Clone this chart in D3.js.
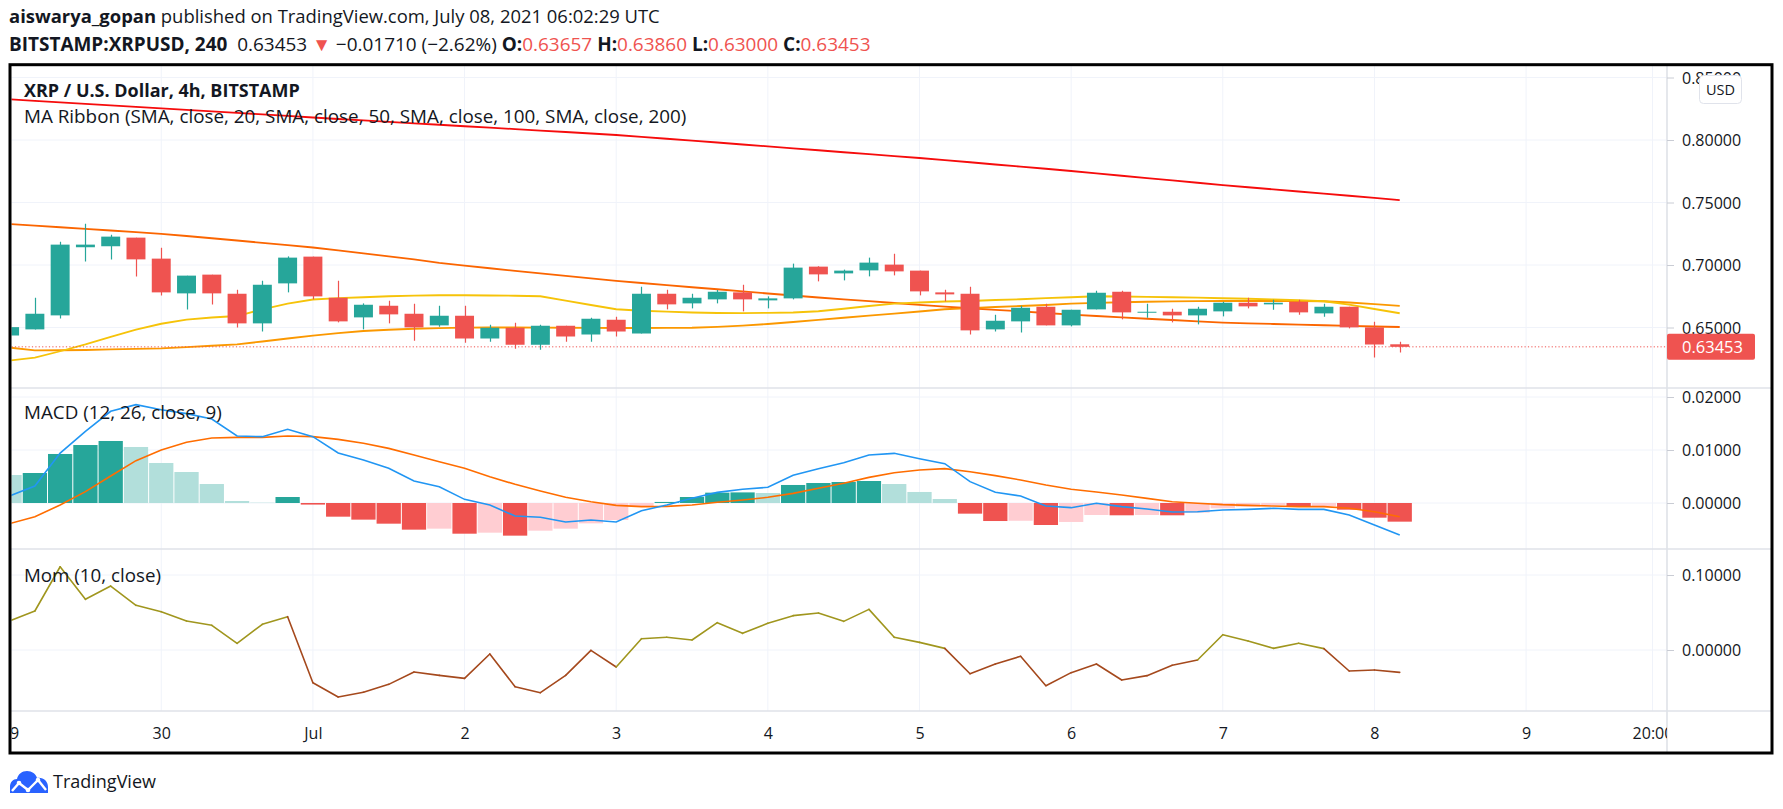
<!DOCTYPE html>
<html><head><meta charset="utf-8">
<script src="https://cdn.jsdelivr.net/npm/d3@7"></script>
<style>
body{margin:0;background:#fff;}
svg{display:block;font-family:"Open Sans",sans-serif;}
</style></head>
<body><svg id="c" width="1783" height="809"></svg>
<script>
// ---------------- DATA ----------------
const opens  = [0.6436,0.6485,0.6597,0.7142,0.7150,0.7219,0.7051,0.6773,0.6923,0.6770,0.6533,0.6853,0.7067,0.6738,0.6581,0.6674,0.6610,0.6517,0.6594,0.6412,0.6498,0.6362,0.6514,0.6444,0.6562,0.6452,0.6770,0.6693,0.6725,0.6781,0.6717,0.6733,0.6987,0.6933,0.6957,0.7003,0.6955,0.6781,0.6770,0.6485,0.6549,0.6666,0.6517,0.6645,0.6786,0.6621,0.6626,0.6597,0.6629,0.6698,0.6685,0.6706,0.6613,0.6666,0.6501,0.63657];
const highs  = [0.6503,0.6738,0.7187,0.7331,0.7243,0.7219,0.7139,0.6915,0.6923,0.6802,0.6874,0.7069,0.7067,0.6874,0.6693,0.6714,0.6690,0.6674,0.6674,0.6522,0.6538,0.6522,0.6514,0.6578,0.6586,0.6826,0.6802,0.6770,0.6800,0.6842,0.6749,0.7011,0.6990,0.6963,0.7059,0.7091,0.6955,0.6802,0.6826,0.6602,0.6674,0.6690,0.6642,0.6794,0.6794,0.6690,0.6650,0.6666,0.6706,0.6738,0.6722,0.6722,0.6690,0.6666,0.6546,0.63860];
const lows   = [0.6436,0.6485,0.6573,0.7029,0.7045,0.6909,0.6757,0.6645,0.6685,0.6501,0.6468,0.6781,0.6725,0.6541,0.6485,0.6533,0.6394,0.6506,0.6378,0.6386,0.6330,0.6322,0.6386,0.6386,0.6428,0.6452,0.6645,0.6653,0.6693,0.6629,0.6653,0.6725,0.6869,0.6877,0.6909,0.6917,0.6757,0.6709,0.6444,0.6468,0.6460,0.6517,0.6509,0.6645,0.6565,0.6578,0.6541,0.6525,0.6589,0.6653,0.6642,0.6602,0.6586,0.6493,0.6260,0.63000];
const closes = [0.6503,0.6610,0.7163,0.7163,0.7227,0.7045,0.6781,0.6915,0.6773,0.6533,0.6842,0.7059,0.6749,0.6549,0.6682,0.6605,0.6501,0.6594,0.6412,0.6498,0.6362,0.6514,0.6428,0.6570,0.6468,0.6770,0.6685,0.6738,0.6786,0.6725,0.6733,0.6979,0.6925,0.6955,0.7019,0.6949,0.6789,0.6765,0.6477,0.6554,0.6658,0.6517,0.6642,0.6778,0.6621,0.6626,0.6597,0.6650,0.6698,0.6669,0.6698,0.6621,0.6666,0.6501,0.6364,0.63453];

const sma20  = [0.6235,0.6259,0.6310,0.6365,0.6425,0.6483,0.6530,0.6563,0.6580,0.6592,0.6645,0.6691,0.6724,0.6735,0.6742,0.6750,0.6755,0.6758,0.6758,0.6756,0.6754,0.6750,0.6715,0.6680,0.6646,0.6634,0.6627,0.6620,0.6616,0.6615,0.6617,0.6620,0.6630,0.6650,0.6672,0.6691,0.6700,0.6708,0.6712,0.6720,0.6726,0.6735,0.6742,0.6750,0.6748,0.6745,0.6742,0.6739,0.6734,0.6730,0.6725,0.6718,0.6710,0.6683,0.6648,0.6614];
const sma50  = [0.6339,0.6317,0.6318,0.6320,0.6325,0.6329,0.6333,0.6343,0.6354,0.6365,0.6388,0.6412,0.6435,0.6455,0.6472,0.6482,0.6490,0.6495,0.6499,0.6500,0.6500,0.6499,0.6498,0.6497,0.6496,0.6496,0.6497,0.6498,0.6505,0.6515,0.6528,0.6544,0.6561,0.6578,0.6595,0.6611,0.6628,0.6646,0.6655,0.6664,0.6672,0.6680,0.6691,0.6697,0.6702,0.6706,0.6709,0.6711,0.6712,0.6712,0.6712,0.6711,0.6710,0.6700,0.6687,0.6673];
const sma100 = [0.7327,0.7315,0.7302,0.7289,0.7276,0.7263,0.7249,0.7232,0.7214,0.7196,0.7177,0.7159,0.7140,0.7117,0.7093,0.7069,0.7045,0.7017,0.6995,0.6974,0.6953,0.6933,0.6913,0.6893,0.6873,0.6856,0.6839,0.6822,0.6806,0.6789,0.6772,0.6756,0.6740,0.6725,0.6711,0.6696,0.6681,0.6667,0.6654,0.6641,0.6629,0.6616,0.6603,0.6592,0.6581,0.6570,0.6560,0.6549,0.6539,0.6533,0.6528,0.6523,0.6518,0.6513,0.6508,0.6504];
const sma200 = [0.8325,0.8313,0.8301,0.8289,0.8277,0.8265,0.8253,0.8241,0.8229,0.8217,0.8205,0.8193,0.8180,0.8168,0.8157,0.8145,0.8133,0.8122,0.8110,0.8099,0.8087,0.8075,0.8064,0.8052,0.8040,0.8025,0.8010,0.7995,0.7980,0.7964,0.7949,0.7933,0.7918,0.7902,0.7887,0.7871,0.7856,0.7839,0.7822,0.7804,0.7787,0.7770,0.7752,0.7733,0.7714,0.7695,0.7677,0.7658,0.7639,0.7622,0.7605,0.7588,0.7571,0.7554,0.7537,0.7519];

const macdHist = [0.00528,0.00566,0.00925,0.01094,0.01170,0.01057,0.00755,0.00585,0.00358,0.00038,0.00006,0.00113,-0.00030,-0.00258,-0.00314,-0.00390,-0.00503,-0.00484,-0.00579,-0.00560,-0.00616,-0.00522,-0.00484,-0.00384,-0.00321,-0.00057,0.00020,0.00113,0.00195,0.00200,0.00189,0.00340,0.00377,0.00396,0.00415,0.00358,0.00208,0.00075,-0.00201,-0.00340,-0.00335,-0.00415,-0.00358,-0.00226,-0.00232,-0.00226,-0.00232,-0.00182,-0.00100,-0.00070,-0.00038,-0.00063,-0.00057,-0.00126,-0.00277,-0.00352];
const macdLine = [0.00132,0.00321,0.00943,0.01352,0.01730,0.01855,0.01761,0.01686,0.01585,0.01264,0.01252,0.01390,0.01252,0.00943,0.00811,0.00654,0.00415,0.00308,0.00069,-0.00038,-0.00245,-0.00270,-0.00358,-0.00321,-0.00358,-0.00145,-0.00038,0.00088,0.00201,0.00258,0.00296,0.00522,0.00648,0.00761,0.00906,0.00937,0.00836,0.00742,0.00403,0.00201,0.00132,-0.00057,-0.00088,-0.00006,-0.00069,-0.00113,-0.00170,-0.00164,-0.00132,-0.00120,-0.00100,-0.00120,-0.00120,-0.00226,-0.00415,-0.00604];
const macdSignal = [-0.00390,-0.00258,-0.00038,0.00214,0.00510,0.00799,0.01000,0.01145,0.01226,0.01239,0.01239,0.01264,0.01252,0.01201,0.01126,0.01031,0.00906,0.00780,0.00654,0.00497,0.00352,0.00226,0.00107,0.00025,-0.00044,-0.00069,-0.00063,-0.00038,0.00013,0.00057,0.00107,0.00182,0.00277,0.00371,0.00484,0.00572,0.00623,0.00648,0.00591,0.00516,0.00434,0.00340,0.00258,0.00208,0.00151,0.00088,0.00025,-0.00006,-0.00031,-0.00044,-0.00057,-0.00069,-0.00069,-0.00100,-0.00164,-0.00258];

const momValues = [0.0387,0.0520,0.1110,0.0676,0.0853,0.0596,0.0511,0.0387,0.0329,0.0089,0.0342,0.0444,-0.0436,-0.0627,-0.0564,-0.0458,-0.0293,-0.0338,-0.0378,-0.0053,-0.0489,-0.0569,-0.0338,-0.0005,-0.0227,0.0151,0.0169,0.0133,0.0364,0.0222,0.0356,0.0458,0.0493,0.0382,0.0542,0.0169,0.0102,0.0022,-0.0316,-0.0187,-0.0084,-0.0476,-0.0302,-0.0187,-0.0400,-0.0342,-0.0204,-0.0133,0.0204,0.0120,0.0022,0.0089,0.0018,-0.0280,-0.0267,-0.0298];

const priceTicks = [0.85,0.80,0.75,0.70,0.65];
const macdTicks  = [0.02,0.01,0.00];
const momTicks   = [0.10,0.00];
const timeTickDates = [[2021,5,29,0],[2021,5,30,0],[2021,6,1,0],[2021,6,2,0],[2021,6,3,0],[2021,6,4,0],[2021,6,5,0],[2021,6,6,0],[2021,6,7,0],[2021,6,8,0],[2021,6,9,0],[2021,6,9,20]];
const timeTickLabels = ["29","30","Jul","2","3","4","5","6","7","8","9","20:00"];
const lastPrice = 0.63453;

// ---------------- LAYOUT ----------------
const C = {up:"#26a69a", down:"#ef5350", upLight:"#b2dfdb", downLight:"#ffcdd2",
  text:"#131722", grid:"#f0f3fa", sep:"#dfe2e8", ma20:"#f6c309", ma50:"#fb9800", ma100:"#fb6500", ma200:"#f60c0c",
  macd:"#2196f3", signal:"#ff6d00", momPos:"#a0961e", momNeg:"#a5491d"};
const FONT = '"Open Sans", sans-serif';
const plotL = 11.5, axisX = 1667;
const paneMain = [65, 388], paneMacd = [388, 549], paneMom = [549, 711];
const frame = {l:10, t:64.7, r:1772, b:753};

const svg = d3.select("#c");
const t0 = Date.UTC(2021,5,29,0);
const times = opens.map((_, i) => new Date(t0 + i * 4 * 3600e3));
const x = d3.scaleUtc().domain([new Date(t0), new Date(Date.UTC(2021,6,9))]).range([9.6, 9.6 + 10*151.65]);
const step = x(times[1]) - x(times[0]);
const yP = d3.scaleLinear().domain([0.65, 0.80]).range([327.5, 140]);
const yM = d3.scaleLinear().domain([0, 0.02]).range([503, 397]);
const yO = d3.scaleLinear().domain([0, 0.1]).range([650, 575]);
const tickDates = timeTickDates.map(a => new Date(Date.UTC(...a)));

const defs = svg.append("defs");
function clip(id, y0, y1){ defs.append("clipPath").attr("id", id).append("rect").attr("x", plotL).attr("y", y0).attr("width", axisX - plotL).attr("height", y1 - y0); }
clip("cMain", paneMain[0], paneMain[1]); clip("cMacd", paneMacd[0], paneMacd[1]); clip("cMom", paneMom[0], paneMom[1]);
clip("cTime", paneMom[1], frame.b);

// grid
const grid = svg.append("g");
grid.selectAll("line.v").data(tickDates).join("line")
  .attr("x1", d => x(d)).attr("x2", d => x(d)).attr("y1", paneMain[0]).attr("y2", paneMom[1])
  .attr("stroke", C.grid).attr("stroke-width", 1).attr("clip-path", null);
function hgrid(ticks, y){ grid.selectAll(null).data(ticks).join("line")
  .attr("x1", plotL).attr("x2", axisX).attr("y1", d => y(d)).attr("y2", d => y(d))
  .attr("stroke", C.grid).attr("stroke-width", 1); }
hgrid(priceTicks, yP); hgrid(macdTicks, yM); hgrid(momTicks, yO);

// ---------- main pane ----------
const gMain = svg.append("g").attr("clip-path", "url(#cMain)");
const lineGen = (arr, y) => d3.line().x((d, i) => x(times[i])).y(d => y(d))(arr);
[[sma200, C.ma200],[sma100, C.ma100],[sma50, C.ma50],[sma20, C.ma20]].forEach(([arr, col]) => {
  gMain.append("path").attr("d", lineGen(arr, yP)).attr("fill", "none").attr("stroke", col).attr("stroke-width", 1.8);
});
gMain.append("line").attr("x1", plotL).attr("x2", axisX).attr("y1", yP(lastPrice)).attr("y2", yP(lastPrice))
  .attr("stroke", C.down).attr("stroke-width", 1).attr("stroke-dasharray", "1.2 2.2");
const bodyW = step * 0.75;
const cndl = gMain.selectAll("g.c").data(opens.map((o, i) => ({o, h: highs[i], l: lows[i], c: closes[i], t: times[i]}))).join("g");
cndl.append("line").attr("x1", d => Math.round(x(d.t)) + 0.5).attr("x2", d => Math.round(x(d.t)) + 0.5)
  .attr("y1", d => yP(d.h)).attr("y2", d => yP(d.l))
  .attr("stroke", d => d.c >= d.o ? C.up : C.down).attr("stroke-width", 1.2);
cndl.append("rect").attr("x", d => x(d.t) - bodyW/2).attr("width", bodyW)
  .attr("y", d => yP(Math.max(d.o, d.c))).attr("height", d => Math.max(1, Math.abs(yP(d.o) - yP(d.c))))
  .attr("fill", d => d.c >= d.o ? C.up : C.down);

// ---------- MACD pane ----------
const gMacd = svg.append("g").attr("clip-path", "url(#cMacd)");
gMacd.selectAll("rect").data(macdHist).join("rect")
  .attr("x", (d, i) => x(times[i]) - (step - 1)/2).attr("width", step - 1)
  .attr("y", d => Math.min(yM(d), yM(0))).attr("height", d => Math.abs(yM(d) - yM(0)))
  .attr("fill", (d, i) => {
    const rising = i > 0 ? d >= macdHist[i-1] : false;
    return d >= 0 ? (rising ? C.up : C.upLight) : (rising ? C.downLight : C.down);
  });
gMacd.append("path").attr("d", lineGen(macdSignal, yM)).attr("fill", "none").attr("stroke", C.signal).attr("stroke-width", 1.6);
gMacd.append("path").attr("d", lineGen(macdLine, yM)).attr("fill", "none").attr("stroke", C.macd).attr("stroke-width", 1.6);

// ---------- Mom pane ----------
const gMom = svg.append("g").attr("clip-path", "url(#cMom)");
gMom.selectAll("path").data(d3.range(1, momValues.length)).join("path")
  .attr("d", i => d3.line().x(j => x(times[j])).y(j => yO(momValues[j]))([i-1, i]))
  .attr("fill", "none").attr("stroke", i => momValues[i] >= 0 ? C.momPos : C.momNeg)
  .attr("stroke-width", 1.6).attr("stroke-linecap", "round");

// ---------- separators ----------
const sep = svg.append("g");
[paneMain[1], paneMacd[1], paneMom[1]].forEach(y => sep.append("line").attr("x1", frame.l).attr("x2", frame.r).attr("y1", y).attr("y2", y).attr("stroke", C.sep).attr("stroke-width", 1.6));
sep.append("line").attr("x1", axisX).attr("x2", axisX).attr("y1", frame.t).attr("y2", frame.b).attr("stroke", C.sep).attr("stroke-width", 1.6);

// ---------- axes ----------
function priceAxis(y, ticks){
  const g = svg.append("g").attr("transform", `translate(${axisX},0)`)
    .call(d3.axisRight(y).tickValues(ticks).tickSize(7).tickPadding(8).tickFormat(d3.format(".5f")));
  g.attr("font-family", FONT).attr("font-size", 16);
  g.select(".domain").remove();
  g.selectAll(".tick line").attr("stroke", "#c9ccd4");
  g.selectAll(".tick text").attr("fill", C.text).attr("dy", "0.36em");
  return g;
}
priceAxis(yP, priceTicks); priceAxis(yM, macdTicks); priceAxis(yO, momTicks);

const gT = svg.append("g").attr("transform", `translate(0,${paneMom[1]})`).attr("clip-path", "url(#cTimeLocal)")
  .call(d3.axisBottom(x).tickValues(tickDates).tickSize(0).tickFormat((d, i) => timeTickLabels[i]));
gT.attr("font-family", FONT).attr("font-size", 16);
gT.select(".domain").remove();
gT.selectAll(".tick text").attr("fill", C.text).attr("y", 28).attr("dy", 0);
defs.append("clipPath").attr("id", "cTimeLocal").append("rect").attr("x", plotL).attr("y", 0).attr("width", axisX - plotL).attr("height", frame.b - paneMom[1]);

// last price label
const lp = svg.append("g");
lp.append("rect").attr("x", axisX).attr("y", yP(lastPrice) - 13).attr("width", 88).attr("height", 26).attr("rx", 2).attr("fill", C.down);
lp.append("text").attr("x", axisX + 15).attr("y", yP(lastPrice)).attr("dy", "0.36em").attr("font-family", FONT)
  .attr("font-size", 16.5).attr("fill", "#fff").text(d3.format(".5f")(lastPrice));

// USD box
const usd = svg.append("g");
usd.append("rect").attr("x", 1699.5).attr("y", 75.5).attr("width", 42).attr("height", 28).attr("rx", 4).attr("fill", "#fff").attr("stroke", "#e0e3eb");
usd.append("text").attr("x", 1720.5).attr("y", 89.5).attr("dy", "0.36em").attr("text-anchor", "middle")
  .attr("font-family", FONT).attr("font-size", 14.5).attr("fill", C.text).text("USD");

// frame
svg.append("rect").attr("x", frame.l).attr("y", frame.t).attr("width", frame.r - frame.l).attr("height", frame.b - frame.t)
  .attr("fill", "none").attr("stroke", "#000").attr("stroke-width", 3);

// ---------- texts ----------
function fit(sel, w){ const L = sel.node().getComputedTextLength(); const fs = parseFloat(sel.attr("font-size")); sel.attr("font-size", fs * w / L); }
function txt(xp, yp, size, w, parts){
  const t = svg.append("text").attr("x", xp).attr("y", yp).attr("font-family", FONT).attr("font-size", size)
    .attr("fill", C.text).style("white-space", "pre");
  parts.forEach(p => t.append("tspan").text(p[0]).attr("font-weight", p[1] ? 700 : 400).attr("fill", p[2] || C.text));
  if (w) fit(t, w);
  return t;
}
txt(9, 23.3, 16, 651, [["aiswarya_gopan", true], [" published on TradingView.com, July 08, 2021 06:02:29 UTC"]]);
const R = C.down;
txt(9, 50.7, 16, 862, [["BITSTAMP:XRPUSD, 240", true], ["  0.63453 "], ["▼", false, R], [" \u22120.01710 (\u22122.62%) "],
  ["O:", true], ["0.63657", false, R], [" H:", true], ["0.63860", false, R], [" L:", true], ["0.63000", false, R], [" C:", true], ["0.63453", false, R]]);
txt(24, 96.7, 17, 276, [["XRP / U.S. Dollar, 4h, BITSTAMP", true]]);
txt(24, 123, 17, 663, [["MA Ribbon (SMA, close, 20, SMA, close, 50, SMA, close, 100, SMA, close, 200)"]]);
txt(24, 419, 17, 198, [["MACD (12, 26, close, 9)"]]);
txt(24, 581.5, 17, 137, [["Mom (10, close)"]]);
txt(53, 788, 17, 103, [["TradingView"]]);

// logo
const logo = svg.append("g");
logo.append("path").attr("fill", "#2962ff")
  .attr("d", "M10,793 L10,787 C10,782 13,779 17,779 C18,774 22,771 27,771 C32,771 36,774 37,778 C43,777 48,781 48,787 L48,793 Z");
logo.append("polyline").attr("points", "12,791 19,783 28,790 38,780 46,790").attr("fill", "none").attr("stroke", "#fff").attr("stroke-width", 2.4).attr("stroke-linejoin", "round");
[[19,783],[28,790],[38,780]].forEach(p => logo.append("circle").attr("cx", p[0]).attr("cy", p[1]).attr("r", 2.3).attr("fill", "#fff"));
</script>
</body></html>
